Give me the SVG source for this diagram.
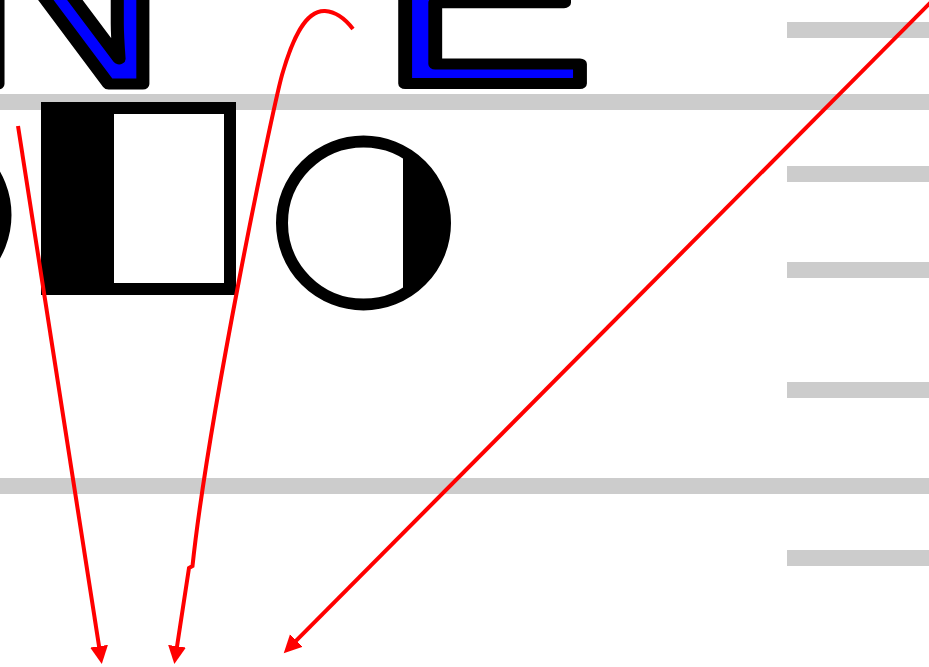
<svg xmlns="http://www.w3.org/2000/svg" width="929" height="667" viewBox="0 0 929 667">
  <defs>
    <style>
      .grid { stroke: #cccccc; stroke-width: 16; fill: none; }
      .glyph { font-family: "Liberation Sans", Arial, sans-serif; font-size: 256px; fill: #0000ff; stroke: #000000; stroke-width: 11; stroke-linejoin: round; }
      .edge { stroke: #ff0000; stroke-width: 4; fill: none; marker-end: url(#arrow); }
    </style>
    <marker id="arrow" markerUnits="userSpaceOnUse" markerWidth="20" markerHeight="20" viewBox="0 0 20 20" refX="1" refY="10" orient="auto">
      <path d="M0,1 L18,10 L0,19 z" fill="#ff0000"/>
    </marker>
    <clipPath id="circ-clip">
      <circle cx="363.5" cy="223" r="81.5"/>
    </clipPath>
  </defs>
  <rect width="929" height="667" fill="#ffffff"/>

  <g id="guides">
    <line class="grid" x1="0" y1="102" x2="929" y2="102"/>
    <line class="grid" x1="0" y1="486" x2="929" y2="486"/>
    <line class="grid" x1="787" y1="30" x2="929" y2="30"/>
    <line class="grid" x1="787" y1="174" x2="929" y2="174"/>
    <line class="grid" x1="787" y1="270" x2="929" y2="270"/>
    <line class="grid" x1="787" y1="390" x2="929" y2="390"/>
    <line class="grid" x1="787" y1="558" x2="929" y2="558"/>
  </g>

  <g id="letter-n">
    <text class="glyph" transform="translate(-52.3,84) scale(1.19,1)">N</text>
  </g>
  <g id="letter-e">
    <text class="glyph" transform="translate(378.7,83.5) scale(1.26,1)">E</text>
  </g>

  <g id="left-circle">
    <circle cx="-76" cy="215" r="81.5" fill="none" stroke="#000000" stroke-width="12"/>
  </g>

  <g id="half-rect">
    <rect x="47" y="108" width="183" height="181" fill="#ffffff" stroke="#000000" stroke-width="12"/>
    <rect x="41" y="102" width="73" height="193" fill="#000000"/>
  </g>

  <g id="half-circle">
    <circle cx="363.5" cy="223" r="81.5" fill="#ffffff"/>
    <rect x="403" y="130" width="70" height="190" fill="#000000" clip-path="url(#circ-clip)"/>
    <circle cx="363.5" cy="223" r="81.5" fill="none" stroke="#000000" stroke-width="12"/>
  </g>

  <g id="connectors">
    <path class="edge" d="M18,126 L99.2,647.2"/>
    <path class="edge" d="M353,29 Q340,12 325,11 C305,10 292,40 282,75 C270.6,117 208,420 192.5,566 L189,568 L176.9,647.2"/>
    <path class="edge" d="M932,1 L295.7,641.2"/>
  </g>
</svg>
